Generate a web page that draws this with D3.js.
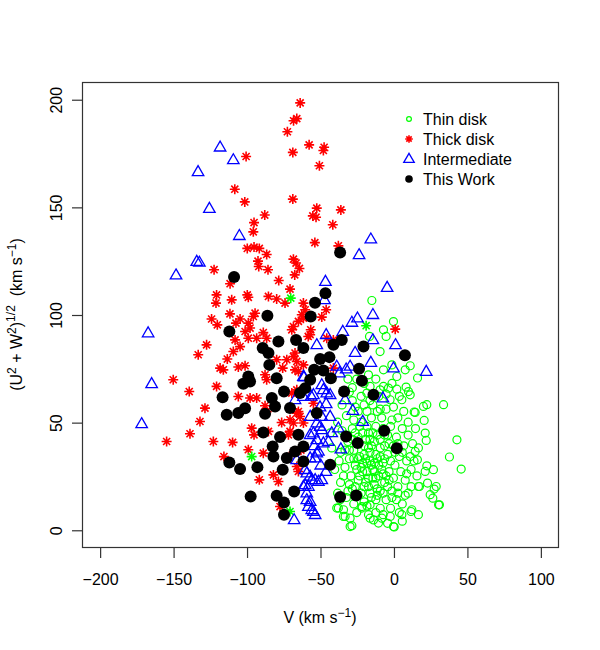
<!DOCTYPE html>
<html>
<head>
<meta charset="utf-8">
<script src="https://cdn.jsdelivr.net/npm/d3@7"></script>
<style>
  body { margin: 0; background: #fff; }
  svg { display: block; }
  text { font-family: "Liberation Sans", Arial, Helvetica, sans-serif; }
</style>
</head>
<body>
<div id="chart"></div>
<script>
// [V, sqrt(U^2+W^2)] in km/s
const thinDisk = [
  [-14.7,106.5],[0,96.7],[-6.8,92.9],[-5,89.8],[-16.3,89.8],[-9.1,82.8],[-6.8,74.3],[-1.1,76.6],[8,74.3],[11.4,76.2],
  [2.3,71.2],[16.4,70.5],[-17,72],[-6.8,66.6],[-3.4,65.8],[2.3,65.3],[8.6,66.3],[10.2,64.2],[11.4,62.7],[-15.9,66.6],
  [-18.1,63.5],[-9.1,65],[-2.3,60.4],[5.7,60.4],[22.7,58.1],[34.1,58.1],[20.4,57.3],[14.1,54.7],[20.9,50.8],[21.6,44.9],
  [22.3,41.5],[43.2,41.8],[38.1,33.8],[46.1,28.2],[22.7,29.7],[27.2,27.9],[21.6,27.1],[17,20.1],[23.2,21.7],[27.7,18.9],
  [25,16.3],[26.8,14.7],[31.3,11.6],[17,7],[11.9,8.5],[0.5,1.3],[-10.2,3.1],[-15.9,5.4],[-29.5,1.5],[-34.1,6.2],
  [-21.5,10.1],[-38.6,10.1],[14.8,54.5],[14.8,36.4],[16.3,32.5],[11.4,34],[17.7,20.1],[29.1,20.1],[30.7,11.6],[0,1.5],
  [-28.3,1.9],[-32.9,6.2],[-29.5,5.4],[-34,9.3],[12.5,9.3],[5.7,7],[-2.2,6.2],[-7.9,5.4],[-13.6,4.6],[-17,7],
  [-21.5,10.8],[-15.9,11.6],[-37.5,10.1],[-36.3,13.9],
  [-25,70],[-20,68],[-28,66],[-12,70],[-22,62],[-30,64],[-10,62],[-14,58],[-26,57],[-5,56],
  [0,57],[-18,55],[3,52],[-8,52],[-32,53],[-22,50],[-12,48],[-2,48],[6,47],[-28,47],
  [-35,46],[-17,45],[-6,44],[2,43],[10,44],[-24,43],[-31,41],[-13,41],[-20,39],[-9,38],
  [0,39],[7,39],[13,40],[-27,37],[-36,36],[-16,36],[-4,35],[4,34],[-23,34],[-11,33],
  [-30,33],[9,32],[-18,31],[-7,31],[1,30],[-26,30],[-33,29],[-14,28],[-21,27],[-3,27],
  [5,27],[12,28],[-10,25],[-29,25],[-17,24],[-24,23],[0,24],[-6,22],[8,23],[-36,22],
  [-13,21],[-20,20],[3,20],[-1,18],[-28,19],[-9,18],[-16,17],[-24,16],[10,17],[-32,15],
  [-5,14],[-12,14],[2,14],[-20,13],[6,12],[-27,12],[-9,10],[-2,10],
  [-19,33],[-15,30],[-12,35],[-8,28],[-22,29],[-17,38],[-25,40],[-11,44],[-3,40],[-6,33],
  [-14,24],[-19,22],[-11,19],[-4,20],[-23,25],[-30,37],[-33,44],[-27,51],[-15,52],[-20,58],
  [-9,56],[-5,63],[-1,68],[4,62],[7,55],[10,50],[15,47],[17,38],[14,32],[16,25],
  [12,20],[8,16],[4,8],[-7,7],[-25,8],[-38,17],[-40,28],[-42,38],[-38,50],[-35,58],
  [-31,70],[-43,45],[-18,48],[-7,47],[-24,33],[-13,27],[-2,32],[1,36],[-16,42],[-28,42],
  [-21,45],[-10,30],[-5,25],[-18,27],[-26,20],[-15,15],[-30,21],
  [-20,35],[-16,32],[-13,31],[-9,34],[-21,31],[-25,28],[-12,24],[-7,26],[-3,23],[-17,20],
  [-22,17],[-11,16],[-7,17],[-1,15],[3,17],[-26,45],[-23,48],[-14,45],[-9,42],[-4,44],
  [-1,51],[-11,55],[-16,60],[-24,55],[-28,60],[-33,37],[-37,32],[-34,25],[-31,18],[-18,11],
  [-12,8],[-4,3],[6,4],[9,26],[6,36],[3,40],[-6,39],[-15,39],[-27,33],[-19,42]
];

const thinDiskStars = [[-69.9,107.6],[-96.5,34],[-70.4,8.5],[-18.6,94.8]];

const thickDisk = [
  [-63.5,198.3],[-68,190],[-65.8,191],[-72.2,184.9],[-57.4,178.8],[-47.2,177.7],[-47.7,176.2],[-68.5,175.3],[-100.3,173.4],[-50.4,169.1],
  [-108,158.2],[-101.2,152.3],[-68.5,153.6],[-52.2,149.4],[-54.9,145.8],[-52.7,145.2],[-35.8,148.6],[-41.3,141.7],[-87.6,146.2],[-94.9,142.7],
  [-95.4,138.4],[-53.5,133.4],[-37.5,131.9],[-99.5,130.7],[-94.9,131.3],[-91.3,130.7],[-86.3,127.9],[-92.2,124.8],[-91.7,122.3],[-85.4,120.8],
  [-68.1,125.7],[-66.3,123.9],[-64,121.4],[-67.2,118.4],[-78.1,115.8],[-122.1,120.8],[-111.2,114.3],[-70.4,111.8],
  [-120.4,109.1],[-120.8,105.3],[-110.1,106.8],[-99.5,109.1],[-98.8,108],[-85.1,108.4],[-79.5,107.2],[-73.8,105.3],[-61.3,105.3],[-60.1,102.2],
  [-62.4,99.9],[-64.7,96.8],[-68.1,94.4],[-69.2,92.9],[-45.8,102.2],[-48.8,98.8],[-56.3,92.9],[-58,89.8],[-45.4,89],[-40.9,88.2],
  [-111.3,100.3],[-123.8,97.9],[-119.9,95.2],[-104.4,97.9],[-107.2,96],[-94.2,100.6],[-95.4,99.1],[-98.8,96],[-97.6,93.7],[-101,92.1],
  [-61.3,98.3],[-56.7,90.6],[-88.6,91.6],[-86.3,89],[-98.8,89],[-93.1,89],[-127.2,85.9],[-132.9,81.3],[-107.8,88.2],[-104.4,85.1],
  [-109,82.8],[-113.1,79.3],[-118,75.1],[-115.8,74.3],[-105.6,75.6],[-101,76.2],[-79.5,79],[-72.6,79],[-68.1,80.5],[-65.8,78.2],
  [-75.4,75.1],[-67,74.3],[-64.7,73.5],[-61.3,76.6],[-67,82.1],[-40.9,75.1],[-87.4,72],[-86.3,69.7],[-149.9,69.7],[-139,64.2],
  [-120.4,66.6],[-105.6,61.9],[-97.6,61.2],[-93.1,61.2],[-87.4,57.6],[-86.3,54.9],[-128.3,56.5],[-131.7,50.3],[-138.5,44.6],[-154.4,41],
  [-122.6,41],[-109.5,40.6],[-96.5,47.2],[-94.9,44.1],[-76.1,49.8],[-70.4,51.1],[-65.8,54.2],[-63.6,52.6],[-61.3,49.6],[-64.7,54.9],
  [-70.4,45.7],[-71.5,44.1],[-85.1,45.7],[-98.8,37.2],[-88.6,35.6],[-115.4,34],[-81.7,25.5],[-78.3,22.4],[-91.3,23.2],[-65.8,29.4],
  [-64.7,27.1],[-68,36],[-63,37],[-77.2,10.8],[-65.8,65],[-69.2,63.5],[-54.5,58.8],[-68.1,49.6],[1.2,93.2]
];

const intermediate = [
  [-118,177.7],[-109,171.8],[-133,166.3],[-125.3,149.2],[-104.9,136.6],[-133.9,124.6],[-132.1,124.2],[-148,118.3],[-46.3,115.3],[-15.4,135],
  [-23.4,127.7],[-4.3,112.5],[-47,106.8],[-24.5,98.3],[-14,99.9],[-28.3,96.3],[-34.5,92.1],[-45.8,90.6],[-52.2,85.9],[-14,88.2],
  [1.4,85.9],[-26.1,82.3],[-15.4,77.7],[-29.5,75.9],[-32.2,74.6],[-38.6,75.9],[-36.8,72.8],[0,75.1],[22.3,73.5],[-60.8,70.9],
  [-48.8,67.3],[-47.7,65],[-43.1,62.7],[-56,62],[-167,91.4],[-164.6,67.8],[-171.4,49.2],
  [-45.4,63.5],[-54.5,62.7],[-32.9,60.4],[-7.2,61.2],[-27.7,55.4],[-20.9,50.3],[-45.8,58.5],[-43.1,52.6],[-48.8,52.6],[-37.5,47.2],
  [-52.2,49.6],[-48.8,46.4],[-54.5,44.9],[-44.3,41],[-47.7,40.3],[-52.2,41.8],[-35.8,37.5],[-51.1,36.4],[-53.3,33.3],[-56.7,33.3],
  [-60.1,27.9],[-56.7,24.8],[-53.3,23.2],[-48.8,23.2],[-57.9,20.1],[-61.3,20.1],[-59,17],[-59,13.9],[-57.9,10.8],[-54.5,8.5],
  [-53.3,7],[-67.6,4.6],[-67,60.4],[-61.3,61.9],[-61.3,71.2],[-56.7,52.6],[-49.9,48],[-56.7,44.1],[-54,39],[-65.9,32.5],
  [-52.2,35.6],[-59,26.3],[-55.6,23.2],[-51.1,22.4],[-60.1,20.9],[-56.7,13.1],[-55.6,9.3],[-49.5,30],[-46,27],[-50,57],[-42,45]
];

const thisWork = [
  [-108.5,117.4],[-36.3,128.8],[-46.3,109.9],[-53.4,105.5],[-56.3,99.1],[-85.8,99.4],[-111.7,92.1],[-78.3,87.5],[-66.3,88.2],[-61.3,84.4],
  [-89,84.4],[-85.1,82.1],[-40.9,85.9],[-35.2,88.2],[-20.4,85.1],[7.8,81.1],[-49.9,79.3],[-43.6,80.2],[-84.5,76.6],[-54,74.3],
  [-47.7,74],[-42.6,70.4],[-23.4,74.8],[-21.5,69.2],[-56.7,69.7],[-60.1,65.8],[-63.6,63.5],[-33.6,64.2],[-13.6,62.7],[-98.8,71.2],
  [-97.6,68.9],[-102.2,67.8],[-79.5,70.4],[-74.5,64.2],[-116.3,61.6],[-82.8,61.2],[-80.6,57.3],[-70.4,56.6],[-101,56.5],[-105.6,54.2],
  [-113.5,53.4],[-87.4,53.9],[-52.2,54.2],[-88.6,45.2],[-77.2,43.1],[-64.7,44.1],[-61.3,38.7],[-67,36.4],[-72.6,33.3],[-82.2,38.7],
  [-81.7,34],[-61.3,31.7],[-43.1,30.2],[-111.7,31.3],[-104.4,28.2],[-92.6,29.1],[-75.4,27.9],[-97.2,15.5],[-79.5,15.8],[-74.5,12.7],
  [-74.5,7],[-67.6,17.8],[-32.2,43.3],[-24.3,40.3],[-6.3,46],[2.3,37.9],[-36.3,15.2],[-25.4,15.9]
];

const xTicks = [-200, -150, -100, -50, 0, 50, 100];
const yTicks = [0, 50, 100, 150, 200];

const legendLabels = ['Thin disk', 'Thick disk', 'Intermediate', 'This Work'];

const w = 600;
const h = 650;
const margin = { top: 82, right: 42, bottom: 103, left: 82 };

const xScale = d3.scaleLinear()
  .domain([-212, 112])
  .range([margin.left, w - margin.right]);

const yScale = d3.scaleLinear()
  .domain([-8, 208])
  .range([h - margin.bottom, margin.top]);

const svg = d3.select('#chart').append('svg')
  .attr('width', w)
  .attr('height', h);

// asterisk like R's pch = 8
function starPath(s) {
  const d = s * 0.707;
  return `M${-s},0L${s},0M0,${-s}L0,${s}M${-d},${-d}L${d},${d}M${-d},${d}L${d},${-d}`;
}
function trianglePath(s) {
  const hh = s * 0.866;
  return `M0,${-hh * 0.62}L${s / 2},${hh * 0.38}L${-s / 2},${hh * 0.38}Z`;
}

// thin disk
svg.append('g').selectAll('circle')
  .data(thinDisk)
  .enter()
  .append('circle')
  .attr('cx', d => xScale(d[0]))
  .attr('cy', d => yScale(d[1]))
  .attr('r', 4)
  .attr('fill', 'none')
  .attr('stroke', '#00ff00')
  .attr('stroke-width', 1.2);

// thick disk
svg.append('g').selectAll('path')
  .data(thickDisk)
  .enter()
  .append('path')
  .attr('transform', d => `translate(${xScale(d[0])},${yScale(d[1])})`)
  .attr('d', starPath(5))
  .attr('fill', 'none')
  .attr('stroke', '#ff0000')
  .attr('stroke-width', 1.6);

svg.append('g').selectAll('path')
  .data(thinDiskStars)
  .enter()
  .append('path')
  .attr('transform', d => `translate(${xScale(d[0])},${yScale(d[1])})`)
  .attr('d', starPath(5))
  .attr('fill', 'none')
  .attr('stroke', '#00ff00')
  .attr('stroke-width', 1.6);

// intermediate
svg.append('g').selectAll('path')
  .data(intermediate)
  .enter()
  .append('path')
  .attr('transform', d => `translate(${xScale(d[0])},${yScale(d[1])})`)
  .attr('d', trianglePath(11.5))
  .attr('fill', 'none')
  .attr('stroke', '#0000ff')
  .attr('stroke-width', 1.3);

// this work
svg.append('g').selectAll('circle')
  .data(thisWork)
  .enter()
  .append('circle')
  .attr('cx', d => xScale(d[0]))
  .attr('cy', d => yScale(d[1]))
  .attr('r', 6)
  .attr('fill', '#000');

// box
svg.append('rect')
  .attr('x', margin.left + 0.5)
  .attr('y', margin.top + 0.5)
  .attr('width', w - margin.left - margin.right)
  .attr('height', h - margin.top - margin.bottom)
  .attr('fill', 'none')
  .attr('stroke', '#333')
  .attr('stroke-width', 1.2);

// X-AXIS
const xAxis = d3.axisBottom(xScale).tickValues(xTicks).tickSize(10.5);
const gx = svg.append('g')
  .attr('transform', `translate(0.5, ${h - margin.bottom + 0.5})`)
  .call(xAxis);
gx.select('.domain').remove();
gx.selectAll('line').attr('stroke', '#333').attr('stroke-width', 1.2);
gx.selectAll('text')
  .attr('y', 37.5)
  .attr('dy', 0)
  .attr('fill', '#000')
  .style('font-size', '16px')
  .style('font-family', '"Liberation Sans", Arial, sans-serif');

// Y-AXIS
const yAxis = d3.axisLeft(yScale).tickValues(yTicks).tickSize(10.5);
const gy = svg.append('g')
  .attr('transform', `translate(${margin.left + 0.5}, 0.5)`)
  .call(yAxis);
gy.select('.domain').remove();
gy.selectAll('line').attr('stroke', '#333').attr('stroke-width', 1.2);
gy.selectAll('text')
  .attr('transform', 'rotate(-90)')
  .attr('x', 0)
  .attr('y', -21)
  .attr('dy', 0)
  .attr('text-anchor', 'middle')
  .attr('fill', '#000')
  .style('font-size', '16px')
  .style('font-family', '"Liberation Sans", Arial, sans-serif');

// axis titles
const xt = svg.append('text')
  .attr('x', (margin.left + w - margin.right) / 2)
  .attr('y', 623)
  .attr('text-anchor', 'middle')
  .attr('font-size', 16);
xt.append('tspan').text('V (km s');
xt.append('tspan').attr('dy', -6).attr('font-size', 12).text('\u22121');
xt.append('tspan').attr('dy', 6).text(')');

const yt = svg.append('text')
  .attr('transform', `translate(22, ${(margin.top + h - margin.bottom) / 2}) rotate(-90)`)
  .attr('text-anchor', 'middle')
  .attr('font-size', 16);
yt.append('tspan').text('(U');
yt.append('tspan').attr('dy', -6).attr('font-size', 12).text('2');
yt.append('tspan').attr('dy', 6).text(' + W');
yt.append('tspan').attr('dy', -6).attr('font-size', 12).text('2');
yt.append('tspan').attr('dy', 6).text(')');
yt.append('tspan').attr('dy', -7).attr('font-size', 12).text('1/2');
yt.append('tspan').attr('dy', 7).text('\u00a0\u00a0(km s');
yt.append('tspan').attr('dy', -6).attr('font-size', 12).text('\u22121');
yt.append('tspan').attr('dy', 6).text(')');

// legend
const legend = svg.append('g').attr('transform', 'translate(409, 119)');
legendLabels.forEach((label, i) => {
  const row = legend.append('g').attr('transform', `translate(0, ${i * 20})`);
  if (i === 0) {
    row.append('circle').attr('r', 2.4).attr('fill', 'none').attr('stroke', '#00ff00').attr('stroke-width', 1.2);
  } else if (i === 1) {
    row.append('path').attr('d', starPath(3.8)).attr('fill', 'none').attr('stroke', '#ff0000').attr('stroke-width', 1.6);
  } else if (i === 2) {
    row.append('path').attr('d', trianglePath(10.5)).attr('fill', 'none').attr('stroke', '#0000ff').attr('stroke-width', 1.3);
  } else {
    row.append('circle').attr('r', 3.8).attr('fill', '#000');
  }
  row.append('text')
    .attr('x', 14)
    .attr('y', 6)
    .attr('font-size', 16)
    .text(label);
});
</script>
</body>
</html>
